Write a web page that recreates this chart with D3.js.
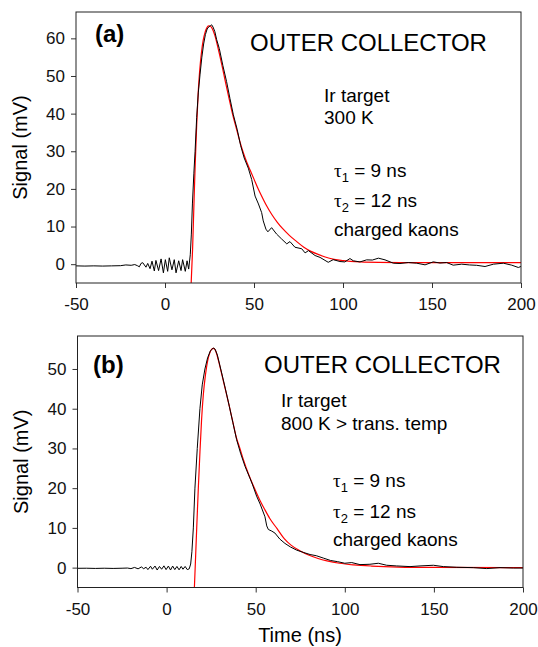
<!DOCTYPE html>
<html>
<head>
<meta charset="utf-8">
<script src="https://cdn.jsdelivr.net/npm/d3@7"></script>
<style>
  body { margin: 0; background: #fff; }
  svg { display: block; font-family: "Liberation Sans", Arial, sans-serif; }
</style>
</head>
<body>
<script>
// tick values
var xTicks = [-50, 0, 50, 100, 150, 200];
var yTicksA = [0, 10, 20, 30, 40, 50, 60];
var yTicksB = [0, 10, 20, 30, 40, 50];

var measuredA = [
  [-50, -0.45], [-45, -0.5], [-40, -0.45], [-35, -0.5], [-30, -0.45], [-25, -0.4],
  [-22, -0.2], [-19, -0.3], [-17, -0.1], [-15.5, -0.4], [-14.4, -0.7], [-13.5, 0.2],
  [-12.5, 0.4], [-10.7, -0.8], [-9.7, 0.2], [-8.4, -1.2], [-7.3, 0.8], [-6.0, -1.8],
  [-5.1, 1.0], [-3.6, -1.7], [-2.2, 1.4], [-0.9, -2.3], [0.2, 1.2], [1.5, -1.9],
  [2.4, 1.7], [3.9, -1.5], [5.2, 1.2], [6.2, -2.3], [7.7, 0.9], [9.0, -1.7],
  [9.9, 1.2], [11.4, -1.9], [12.4, 0.9], [13.3, -1.3], [14.2, 2.5], [14.8, 8],
  [15.4, 16], [16.2, 24], [16.9, 30], [17.8, 39], [18.7, 45.5], [19.7, 50.5],
  [20.7, 55], [21.7, 58.5], [22.7, 61], [23.7, 62.5], [24.7, 63.1], [25.6, 63.4],
  [26.2, 63.6], [27, 63], [28, 61.8], [29, 59.7], [30.5, 57.3], [32.5, 52.8],
  [34.6, 48.5], [36.5, 44], [38.4, 39.7], [40.6, 35.7], [42.5, 31.5], [44.5, 28.2],
  [46.8, 25.5], [48.7, 22.5], [50.6, 18.1], [52.5, 16], [54.3, 13.7], [55.2, 11.5],
  [56.7, 9.3], [57.8, 8.6], [59.9, 9.7], [62.7, 8], [65.5, 6.7], [68.4, 5.4],
  [70.2, 6.0], [73.0, 4.5], [76.8, 4.1], [78.7, 3.0], [80.6, 3.6], [84.3, 2.3],
  [87.1, 1.8], [91.7, 0.5], [94.5, 1.2], [98.3, 0.7], [101, 0.6], [103.9, 1.5],
  [105.8, 0.9], [109.5, 0.6], [113.3, 1.15], [116.5, 1.1], [119.9, 1.6], [123.6, 1.15],
  [128.3, 0.26], [132, 0.18], [136.7, 0.44], [141.4, 0.26], [146.1, -0.18], [150.7, 0.62],
  [154.5, 0.3], [158.2, 0.44], [161.9, -0.26], [166.7, 0], [171, -0.2], [175.1, -0.3],
  [179.8, -0.62], [184.5, 0], [190.1, 0.26], [194.8, -0.26], [198.5, -0.88], [200, -0.6]
];

// panel (a): fitted curve
var fitA = [
  [14.7, -5], [15.5, 4], [16.2, 15], [17.0, 27], [17.8, 37], [18.7, 46],
  [19.5, 51.5], [20.5, 56.3], [21.5, 59.6], [22.5, 61.6], [23.5, 62.8], [24.5, 63.3],
  [25.5, 63.2], [26.5, 62.6], [28, 60.8], [30, 57], [32, 52.8], [34, 48.3],
  [36, 44], [38, 39.8], [40, 36.2], [42, 32.7], [44, 29.6], [46, 27],
  [48, 24.8], [50, 22.6], [52, 20.4], [54, 18.4], [57, 15.6], [60, 13.2],
  [63, 11.2], [66, 9.5], [70, 7.6], [74, 6.0], [78, 4.5], [82, 3.4],
  [86, 2.6], [90, 1.9], [95, 1.3], [100, 0.95], [110, 0.6], [120, 0.48],
  [140, 0.42], [170, 0.4], [200, 0.4]
];

// panel (b): measured signal
var measuredB = [
  [-50, -0.17], [-45, -0.15], [-40, -0.2], [-35, -0.15], [-30, -0.2], [-25, -0.15],
  [-22, -0.1], [-20, -0.25], [-18, 0.05], [-16, -0.3], [-14, 0.2], [-13, -0.3],
  [-11.5, 0.1], [-10.5, -0.5], [-9, 0.35], [-8, -0.4], [-6.5, 0.4], [-5.3, -0.6],
  [-4, 0.3], [-2.8, -0.4], [-1.5, 0.45], [-0.3, -0.5], [1, 0.4], [2.2, -0.6],
  [3.4, 0.4], [4.6, -0.5], [5.8, 0.3], [7, -0.55], [8.2, 0.3], [9.2, -0.4],
  [10.4, 0.3], [11.6, -0.5], [12.7, -0.3], [13.5, 0.9], [14.2, 4], [15.0, 10],
  [15.9, 20], [17.2, 30], [18.7, 40], [20, 46], [21.5, 50], [23, 52.8],
  [24.5, 54.5], [26.2, 55.3], [27.2, 55], [28.5, 53.5], [30.9, 49], [33, 45],
  [35.2, 40.6], [37.2, 36.5], [39.3, 32.2], [41.5, 28.8], [44, 25.5], [46.8, 22.5],
  [48.3, 20.8], [50.5, 18], [52.5, 16], [55.2, 12.8], [56.2, 10.5], [57.1, 9.6],
  [59, 9.2], [60.8, 8.7], [63.5, 7.2], [66.4, 6.1], [69.5, 5.2], [73, 4.4],
  [77, 3.8], [80.5, 3.3], [84, 3.0], [88, 2.4], [92, 1.8], [96, 1.5],
  [100, 1.1], [103.9, 1.27], [108.5, 0.76], [114.1, 0.85], [118.8, 1.1], [123.5, 0.6],
  [129.1, 0.43], [136.6, 0.26], [142.2, 0.43], [149.7, 0.6], [155.3, 0.26], [162.8, 0.09],
  [172.1, 0.0], [179.6, -0.24], [187.1, 0], [194.6, -0.1], [200, -0.1]
];

// panel (b): fitted curve
var fitB = [
  [15.6, -5], [16.3, 3], [16.9, 10], [17.8, 20], [18.7, 29], [19.6, 37],
  [20.6, 43.5], [21.8, 48.5], [23, 52], [24.2, 54], [25.3, 55], [26.3, 55.2],
  [27.5, 54.6], [29, 52.3], [31, 48.6], [33, 44.8], [35, 41], [37, 37],
  [39.3, 32.5], [41, 30.2], [43, 27.3], [46, 23.5], [49, 20.3], [52, 17.3],
  [55, 14.7], [58, 12.3], [62, 9.8], [66, 7.3], [70, 5.6], [75, 4.2],
  [80, 3.1], [85, 2.3], [90, 1.7], [97, 1.1], [105, 0.7], [115, 0.4],
  [130, 0.15], [150, 0.05], [200, 0]
];

var width = 538, height = 647;

var svg = d3.select("body").append("svg")
    .attr("width", width)
    .attr("height", height);

// plain hyphen for negatives, like the original
function plain(d) { return String(d); }

function drawPanel(p) {
    var x = d3.scaleLinear().domain([-50, 200]).range([p.left, p.right]);
    var y = d3.scaleLinear().domain([-5, p.yMax]).range([p.bottom, p.top]);

    var g = svg.append("g");

    g.append("clipPath").attr("id", "clip" + p.id)
      .append("rect")
        .attr("x", p.left).attr("y", p.top)
        .attr("width", p.right - p.left).attr("height", p.bottom - p.top);

    var xAxis = g.append("g")
        .attr("transform", "translate(0," + p.bottom + ")")
        .call(d3.axisBottom(x).tickValues(xTicks).tickFormat(plain)
            .tickSize(5).tickPadding(10).tickSizeOuter(0));
    var yAxis = g.append("g")
        .attr("transform", "translate(" + p.left + ",0)")
        .call(d3.axisLeft(y).tickValues(p.yTicks).tickFormat(plain)
            .tickSize(5).tickPadding(6).tickSizeOuter(0));

    [xAxis, yAxis].forEach(function (a) {
        a.select(".domain").remove();
        a.selectAll("line").attr("stroke", "#333");
        a.selectAll("text").attr("font-size", 17).attr("fill", "#111")
          .attr("font-family", "Liberation Sans, Arial, sans-serif");
    });

    var line = d3.line()
        .x(function (d) { return x(d[0]); })
        .y(function (d) { return y(d[1]); });

    g.append("path")
        .datum(p.fit)
        .attr("clip-path", "url(#clip" + p.id + ")")
        .attr("fill", "none")
        .attr("stroke", "#ff0000")
        .attr("stroke-width", 1.2)
        .attr("d", line.curve(d3.curveMonotoneX));

    g.append("path")
        .datum(p.measured)
        .attr("clip-path", "url(#clip" + p.id + ")")
        .attr("fill", "none")
        .attr("stroke", "#000")
        .attr("stroke-width", 1)
        .attr("d", line.curve(d3.curveLinear));

    g.append("rect")
        .attr("x", p.left).attr("y", p.top)
        .attr("width", p.right - p.left).attr("height", p.bottom - p.top)
        .attr("fill", "none")
        .attr("stroke", "#222")
        .attr("stroke-width", 1);

    g.append("text")
        .attr("transform", "translate(" + p.titleX + "," + ((p.top + p.bottom) / 2) + ") rotate(-90)")
        .attr("text-anchor", "middle")
        .attr("font-size", 20)
        .text("Signal (mV)");

    g.append("text")
        .attr("x", p.tagX).attr("y", p.tagY)
        .attr("font-size", 24).attr("font-weight", "bold")
        .text(p.tag);

    g.append("text")
        .attr("x", p.headX).attr("y", p.tagY + p.headDy)
        .attr("font-size", 24)
        .text("OUTER COLLECTOR");

    p.notes.forEach(function (n, i) {
        g.append("text")
            .attr("x", p.noteX).attr("y", p.noteY + i * 22.5)
            .attr("font-size", 19)
            .text(n);
    });

    ["1", "2"].forEach(function (s, i) {
        var t = g.append("text")
            .attr("x", p.tauX).attr("y", p.tauY + i * 30.5)
            .attr("font-size", 19);
        t.append("tspan").attr("font-family", "Liberation Serif, Times New Roman, serif").text("τ");
        t.append("tspan").attr("font-size", 13).attr("dy", 5).text(s);
        t.append("tspan").attr("dy", -5).text(" = " + (i === 0 ? "9" : "12") + " ns");
    });
    g.append("text")
        .attr("x", p.tauX).attr("y", p.tauY + 59)
        .attr("font-size", 19)
        .text("charged kaons");
}

drawPanel({
    id: "a", tag: "(a)", left: 76, right: 521, top: 12, bottom: 283, yMax: 67,
    yTicks: yTicksA, measured: measuredA, fit: fitA, titleX: 27,
    tagX: 95, tagY: 42, headX: 250, headDy: 9,
    notes: ["Ir target", "300 K"], noteX: 324, noteY: 101.5,
    tauX: 334, tauY: 176.5
});

drawPanel({
    id: "b", tag: "(b)", left: 77.5, right: 523, top: 336, bottom: 587.5, yMax: 58.3,
    yTicks: yTicksB, measured: measuredB, fit: fitB, titleX: 28,
    tagX: 93, tagY: 373, headX: 264, headDy: 0,
    notes: ["Ir target", "800 K > trans. temp"], noteX: 281, noteY: 407,
    tauX: 333, tauY: 487
});

svg.append("text")
    .attr("x", 300).attr("y", 642)
    .attr("text-anchor", "middle")
    .attr("font-size", 20)
    .text("Time (ns)");
</script>
</body>
</html>
